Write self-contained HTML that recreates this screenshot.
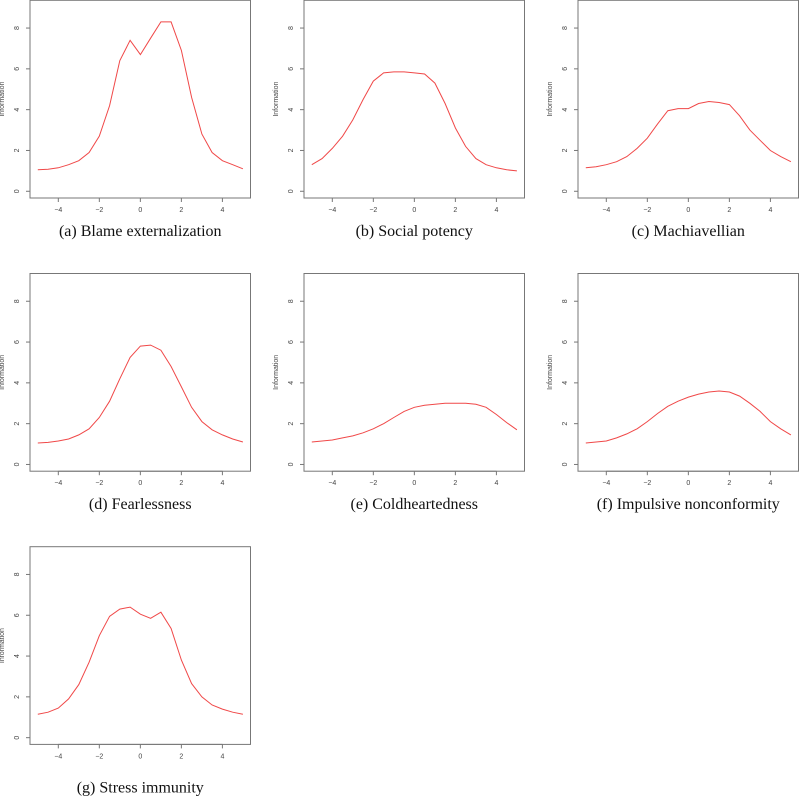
<!DOCTYPE html>
<html><head><meta charset="utf-8"><style>
body{margin:0;background:#fff;width:800px;height:797px;overflow:hidden}
svg{display:block}
.tk{font-family:"Liberation Sans",sans-serif;font-size:7px;fill:#444}
.cap{font-family:"Liberation Serif",serif;font-size:16px;fill:#111}
</style></head><body>
<svg id="chart" width="800" height="797"></svg>
<script>
const thetaValues=[-5,-4.5,-4,-3.5,-3,-2.5,-2,-1.5,-1,-0.5,0,0.5,1,1.5,2,2.5,3,3.5,4,4.5,5];
const blameInfo=[1.05,1.08,1.15,1.3,1.5,1.9,2.7,4.2,6.4,7.4,6.7,7.5,8.3,8.3,6.9,4.6,2.8,1.9,1.5,1.3,1.1];
const socialInfo=[1.3,1.6,2.1,2.7,3.5,4.5,5.4,5.8,5.85,5.85,5.8,5.75,5.3,4.3,3.1,2.2,1.6,1.3,1.15,1.05,1.0];
const machInfo=[1.15,1.2,1.3,1.45,1.7,2.1,2.6,3.3,3.95,4.05,4.05,4.3,4.4,4.35,4.25,3.7,3.0,2.5,2.0,1.7,1.45];
const fearInfo=[1.05,1.08,1.15,1.25,1.45,1.75,2.3,3.1,4.2,5.25,5.8,5.85,5.6,4.8,3.8,2.8,2.1,1.7,1.45,1.25,1.1];
const coldInfo=[1.1,1.15,1.2,1.3,1.4,1.55,1.75,2.0,2.3,2.6,2.8,2.9,2.95,3.0,3.0,3.0,2.95,2.8,2.45,2.05,1.7];
const impulsInfo=[1.05,1.1,1.15,1.3,1.5,1.75,2.1,2.5,2.85,3.1,3.3,3.45,3.55,3.6,3.55,3.35,3.0,2.6,2.1,1.75,1.45];
const stressInfo=[1.15,1.25,1.45,1.9,2.6,3.7,5.0,5.95,6.3,6.4,6.05,5.85,6.15,5.35,3.8,2.65,2.0,1.6,1.4,1.25,1.15];
const xTicks=[-4,-2,0,2,4];
const yTicks=[0,2,4,6,8];
const captions=["(a) Blame externalization","(b) Social potency","(c) Machiavellian","(d) Fearlessness","(e) Coldheartedness","(f) Impulsive nonconformity","(g) Stress immunity"];
const series=[blameInfo,socialInfo,machInfo,fearInfo,coldInfo,impulsInfo,stressInfo];
const NS="http://www.w3.org/2000/svg";
const svg=document.getElementById('chart');
function mk(tag,attrs,parent){const e=document.createElementNS(NS,tag);for(const k in attrs)e.setAttribute(k,attrs[k]);parent.appendChild(e);return e;}
const W=220.5,H=197.7,XMIN=-5.38,XMAX=5.37,YMIN=-0.33,YMAX=9.36;
series.forEach((vals,i)=>{
  const col=i%3,row=Math.floor(i/3);
  const L=30+col*274,T=0.3+row*273.2;
  const sx=v=>L+(v-XMIN)/(XMAX-XMIN)*W;
  const sy=v=>T+H-(v-YMIN)/(YMAX-YMIN)*H;
  const g=mk('g',{},svg);
  
  
  const box=mk('rect',{x:L,y:T,width:W,height:H,fill:'none',stroke:'#777','stroke-width':1},g);
  
  
  const yl=mk('line',{x1:L,x2:L,y1:sy(yTicks[0]),y2:sy(yTicks[yTicks.length-1]),stroke:'#777'},g);
  
  
  yTicks.forEach(t=>{
    mk('line',{x1:L-4,x2:L,y1:sy(t),y2:sy(t),stroke:'#777'},g);
    const tx=mk('text',{x:L-11,y:sy(t),class:'tk','text-anchor':'middle',transform:`rotate(-90 ${L-11} ${sy(t)})`},g);
    tx.textContent=t;
    
    
  });
  const xl=mk('line',{x1:sx(xTicks[0]),x2:sx(xTicks[xTicks.length-1]),y1:T+H,y2:T+H,stroke:'#777'},g);
  
  
  xTicks.forEach(t=>{
    mk('line',{x1:sx(t),x2:sx(t),y1:T+H,y2:T+H+4,stroke:'#777'},g);
    const tx=mk('text',{x:sx(t),y:T+H+14,class:'tk','text-anchor':'middle'},g);
    tx.textContent=t<0?'\u2212'+(-t):t;
    
    
  });
  const yt=mk('text',{x:L-26,y:T+H/2,class:'tk','text-anchor':'middle',transform:`rotate(-90 ${L-26} ${T+H/2})`},g);
  yt.textContent='Information';
  
  
  const d=vals.map((v,j)=>(j?'L':'M')+sx(thetaValues[j]).toFixed(1)+' '+sy(v).toFixed(1)).join(' ');
  const p=mk('path',{d:d,fill:'none',stroke:'#f04848','stroke-width':1},g);
  
  
  const capY=row<2?T+H+38:T+H+48;
  const c=mk('text',{x:L+W/2,y:capY,class:'cap','text-anchor':'middle'},g);
  c.textContent=captions[i];
  
  
});
</script>
</body></html>
